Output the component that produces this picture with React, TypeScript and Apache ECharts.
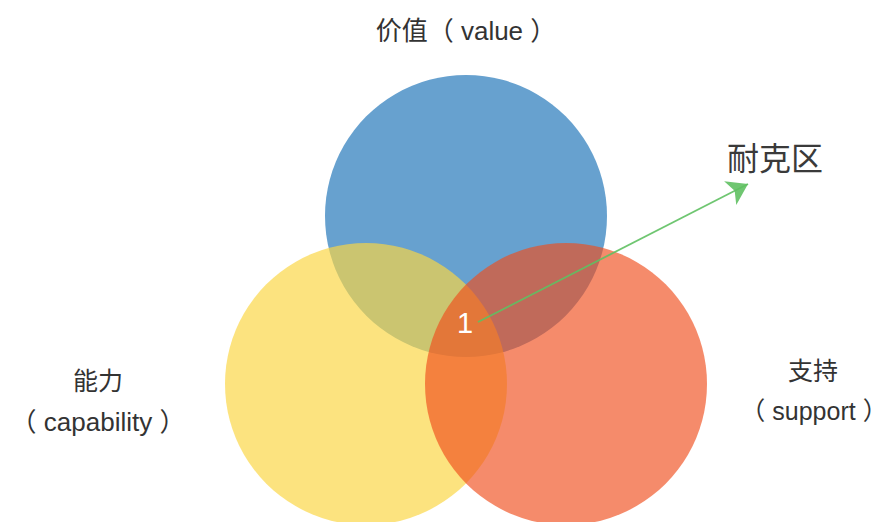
import React, { useEffect, useRef } from "react";
import * as echarts from "echarts";

// Venn sets: centre (x, y) and radius in chart units
const setNames = ["价值", "能力", "支持"];
const setX = [0, -1, 1];
const setY = [1.68, 0, 0];
const setRadius = [1.41, 1.41, 1.41];

// Texts
const titleValue = "价值（ value ）";
const titleCapability = ["能力", "（ capability ）"];
const titleSupport = ["支持", "（ support ）"];
const intersectionLabel = "1";
const annotationText = "耐克区";

// Arrow from the common intersection to the annotation (chart units)
const arrowFrom = [0.12, 0.62];
const arrowTo = [2.82, 2.0];

const FONT = "'Liberation Sans', 'Noto Sans CJK SC', sans-serif";

export default function App() {
  const ref = useRef<HTMLDivElement>(null);

  useEffect(() => {
    if (!ref.current) return;
    const chart = echarts.init(ref.current, null, { renderer: "svg" });
    const fills = [
      "rgb(103,161,207)",
      "rgba(250,213,66,0.68)",
      "rgba(240,77,28,0.651)",
    ];
    const text = (t: string, x: number, y: number, size: number, extra: any = {}) => ({
      type: "text",
      x,
      y,
      z: 100,
      style: {
        text: t,
        x: 0,
        y: 0,
        fill: "#333",
        font: `${size}px ${FONT}`,
        align: "center",
        verticalAlign: "middle",
        ...extra,
      },
    });
    chart.setOption({
      animation: false,
      grid: { left: 0, right: 0, top: 0, bottom: 0 },
      xAxis: { type: "value", min: -4.66, max: 4.24, show: false },
      yAxis: { type: "value", min: -1.38, max: 3.84, show: false },
      series: [
        {
          type: "custom",
          coordinateSystem: "cartesian2d",
          data: setNames.map((n, i) => ({ name: n, value: [setX[i], setY[i], setRadius[i]] })),
          renderItem: (params: any, api: any) => {
            const c = api.coord([api.value(0), api.value(1)]);
            const r = api.size([api.value(2), 0])[0];
            return {
              type: "circle",
              shape: { cx: c[0], cy: c[1], r },
              style: { fill: fills[params.dataIndex] },
            };
          },
          z: 1,
        },
        {
          type: "lines",
          coordinateSystem: "cartesian2d",
          z: 5,
          symbol: ["none", "arrow"],
          symbolSize: 20,
          lineStyle: { color: "#5fc062", width: 1.8, opacity: 0.9, curveness: 0 },
          data: [{ coords: [arrowFrom, arrowTo] }],
        },
      ],
      graphic: [
        text(titleValue, 466, 31, 26),
        text(titleCapability[0], 98, 381, 25),
        text(titleCapability[1], 98, 422, 26),
        text(titleSupport[0], 813, 371, 25),
        text(titleSupport[1], 814, 411, 25),
        text(intersectionLabel, 465, 323, 29, { fill: "#ffffff", font: "29px 'Liberation Sans', sans-serif" }),
        text(annotationText, 775, 156, 32, { fill: "#3a3a3a", font: "32px 'Noto Sans CJK SC', sans-serif" }),
      ],
    });
    return () => chart.dispose();
  }, []);

  return (
    <div
      ref={ref}
      style={{ position: "fixed", left: 0, top: 0, width: 890, height: 522, background: "#fff" }}
    />
  );
}
